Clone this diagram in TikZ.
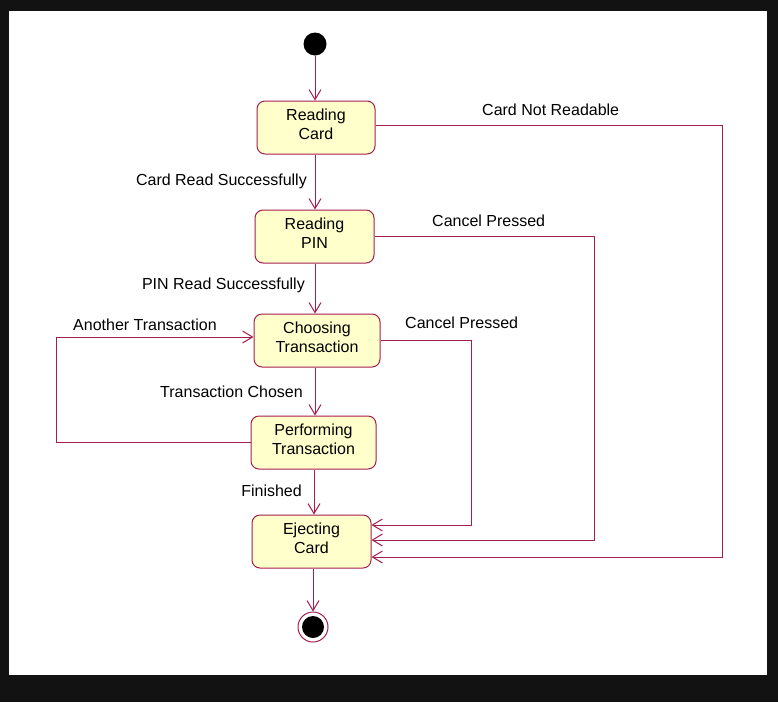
\documentclass[tikz,border=0pt]{standalone}
\usepackage{fontspec}
\setmainfont{Liberation Sans}
\usetikzlibrary{arrows.meta}
\definecolor{umlline}{RGB}{165,30,80}
\definecolor{umlfill}{RGB}{255,255,204}
\tikzset{
  state/.style={draw=umlline, fill=umlfill, line width=1pt, rounded corners=8pt,
    minimum height=53pt, align=center, inner sep=0pt, text depth=7pt},
  trans/.style={draw=umlline, line width=1pt, -{Straight Barb[length=10pt,width=12pt]}},
  lbl/.style={inner sep=0pt}
}
\begin{document}
\begin{tikzpicture}[x=1pt, y=-1pt, font=\fontsize{16}{19.5}\selectfont]
				% Frame
				\fill[black!93] (0,0) rectangle (778,702);
				\fill[white] (9,11) rectangle (767,675);

				% States
				\node[circle, fill=black, minimum size=23pt, inner sep=0pt] (init) at (315,44) {};
				\node[state, minimum width=118pt] (rc) at (316,127.5) {Reading\\Card};
				\node[state, minimum width=119pt] (rp) at (314.5,236.5) {Reading\\PIN};
				\node[state, minimum width=126pt] (ct) at (317,340.5) {Choosing\\Transaction};
				\node[state, minimum width=125pt] (pt) at (313.5,442.5) {Performing\\Transaction};
				\node[state, minimum width=119pt] (ec) at (311.5,541.5) {Ejecting\\Card};
				\node[circle, draw=umlline, line width=1pt, fill=white, minimum size=30pt, inner sep=0pt] (fin) at (313,627) {};
				\fill[black] (fin) circle (11pt);

				% Main flow
				\draw[trans] (init) -- (init |- rc.north);
				\draw[trans] (rc.south -| 315,0) -- (rp.north -| 315,0);
				\draw[trans] (rp.south -| 315,0) -- (ct.north -| 315,0);
				\draw[trans] (ct.south -| 315,0) -- (pt.north -| 315,0);
				\draw[trans] (pt.south -| 314,0) -- (ec.north -| 314,0);
				\draw[trans] (ec.south -| 313,0) -- (fin.north);

				% Exits to Ejecting Card
				\draw[trans] (rc.east |- 0,125) -- (722,125) |- ([yshift=-15.5pt]ec.east);
				\draw[trans] (rp.east) -- (594,236.5) |- ([yshift=1.5pt]ec.east);
				\draw[trans] (ct.east) -- (471,340.5) |- ([yshift=16.5pt]ec.east);

				% Loop back
				\draw[trans] (pt.west) -- (56,442.5) |- ([yshift=3.5pt]ct.west);

				% Labels
				\node[lbl, anchor=east] (l1) at (307,181) {Card Read Successfully};
				\node[lbl, anchor=east] (l2) at (305,285) {PIN Read Successfully};
				\node[lbl, anchor=east] (l3) at (303,392) {Transaction Chosen};
				\node[lbl, anchor=east] (l4) at (302,491) {Finished};
				\node[lbl, anchor=west] (l5) at (482,110) {Card Not Readable};
				\node[lbl, anchor=west] (l6) at (432,221) {Cancel Pressed};
				\node[lbl, anchor=west] (l7) at (405,323) {Cancel Pressed};
				\node[lbl, anchor=west] (l8) at (73,325) {Another Transaction};
			\end{tikzpicture}
\end{document}
